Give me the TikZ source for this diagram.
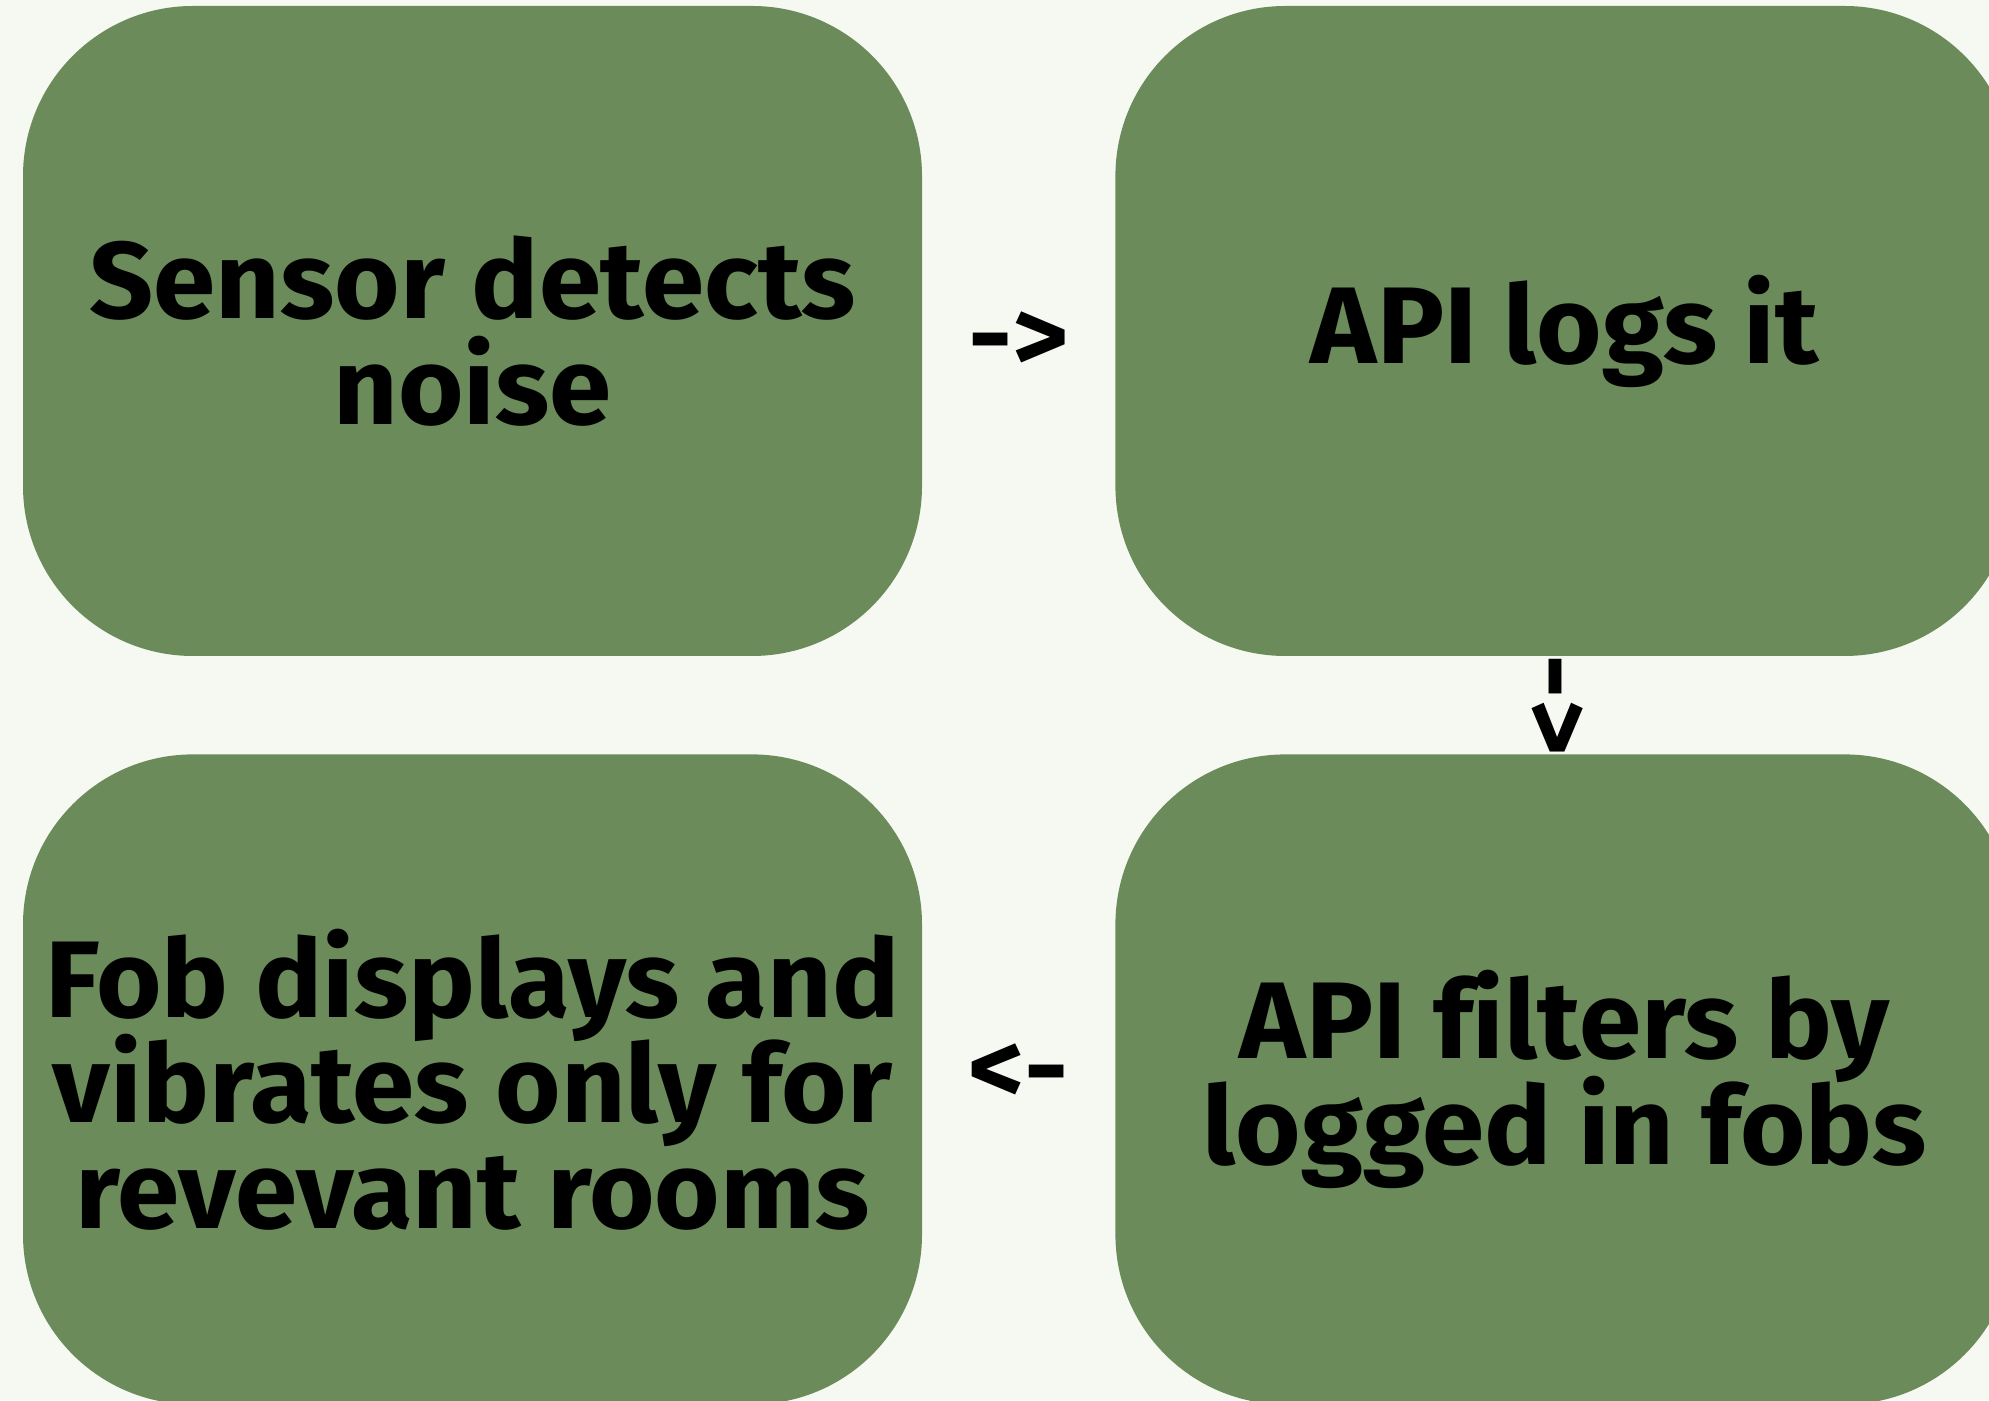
\documentclass[tikz,border=0pt]{standalone}
\usepackage{fontspec}
\setmainfont{Fira Sans}[Ligatures={TeX,NoCommon},FakeStretch=1.03]
\usetikzlibrary{positioning,calc}
\definecolor{boxgreen}{RGB}{107,139,90}
\definecolor{paper}{RGB}{246,248,242}
\newcommand\stepfont{\bfseries\fontsize{31}{30}\selectfont\lineskiplimit=-20pt\relax}
\tikzset{stepbox/.style = {rounded corners=1.7cm,fill=boxgreen,minimum width=8.99cm,minimum height=6.5cm,inner sep=0pt,align=center,font=\stepfont},
  flow/.style = {inner sep=0pt,font=\bfseries\fontsize{30}{30}\selectfont}}

\begin{document}
\begin{tikzpicture}
      \fill [paper] (0,0) rectangle (19.89,14);
      \useasboundingbox (0,0) rectangle (19.89,14);
      \clip (0,0) rectangle (19.89,14);
      \node [stepbox] (sensor) at (4.725,10.69) {Sensor detects\\noise};
      \node [stepbox, right=1.92cm of sensor] (logs) {API logs it};
      \node [stepbox, below=0.97cm of logs] (filters) {API filters by\\logged in fobs};
      \node [stepbox, left=1.92cm of filters] (fob) {Fob displays and\\vibrates only for\\revevant rooms};
      \node [flow, yshift=-1.1mm] (next) at ($(sensor.east)!0.5!(logs.west)$) {->};
      \node [flow, rotate=-90, yshift=-1.2mm] (down) at ($(logs.south)!0.5!(filters.north)$) {->};
      \node [flow, yshift=0.5mm] (back) at ($(filters.west)!0.5!(fob.east)$) {<-};
    \end{tikzpicture}
\end{document}
